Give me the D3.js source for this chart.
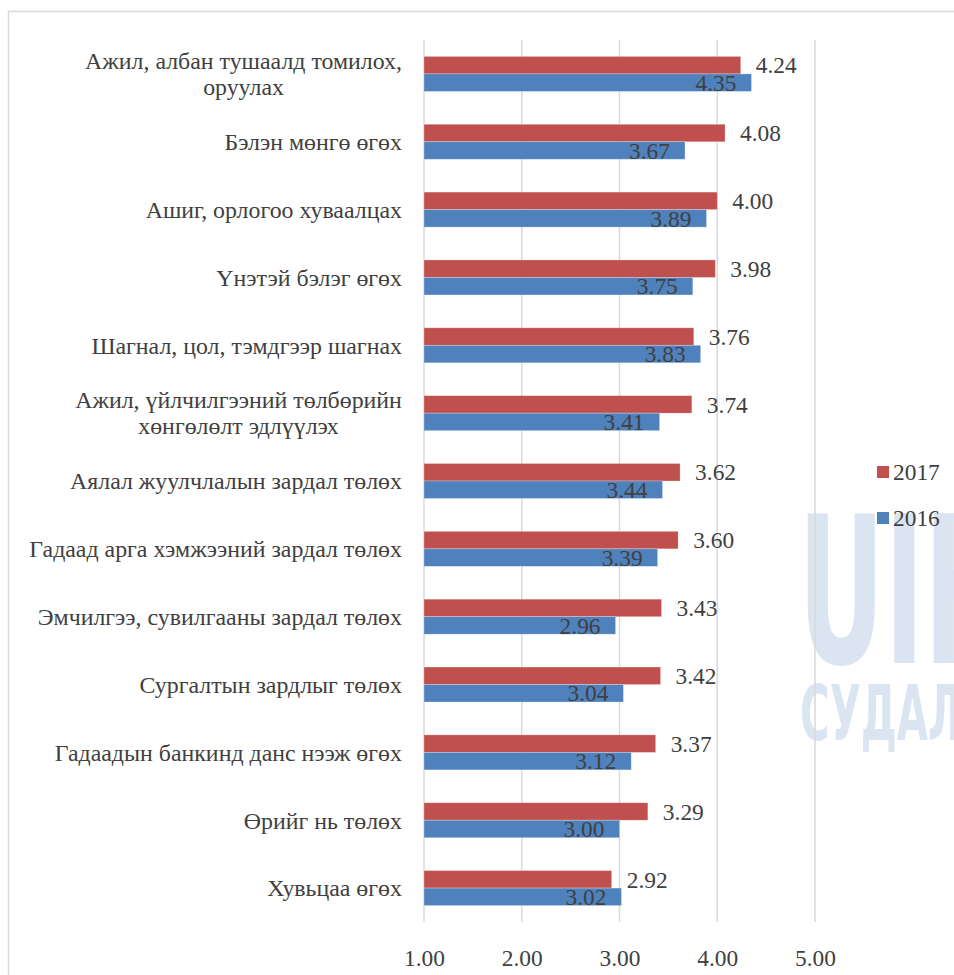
<!DOCTYPE html>
<html>
<head>
<meta charset="utf-8">
<script src="https://cdn.jsdelivr.net/npm/d3@7"></script>
<style>
  html, body { margin: 0; padding: 0; background: #ffffff; }
  svg { display: block; }
</style>
</head>
<body>
<svg id="chart" width="954" height="975"></svg>
<script>
const categories = [
  "Ажил, албан тушаалд томилох,|оруулах",
  "Бэлэн мөнгө өгөх",
  "Ашиг, орлогоо хуваалцах",
  "Үнэтэй бэлэг өгөх",
  "Шагнал, цол, тэмдгээр шагнах",
  "Ажил, үйлчилгээний төлбөрийн|хөнгөлөлт эдлүүлэх",
  "Аялал жуулчлалын зардал төлөх",
  "Гадаад арга хэмжээний зардал төлөх",
  "Эмчилгээ, сувилгааны зардал төлөх",
  "Сургалтын зардлыг төлөх",
  "Гадаадын банкинд данс нээж өгөх",
  "Өрийг нь төлөх",
  "Хувьцаа өгөх"
];
const values2017 = [4.24, 4.08, 4.00, 3.98, 3.76, 3.74, 3.62, 3.60, 3.43, 3.42, 3.37, 3.29, 2.92];
const values2016 = [4.35, 3.67, 3.89, 3.75, 3.83, 3.41, 3.44, 3.39, 2.96, 3.04, 3.12, 3.00, 3.02];
const seriesNames = ["2017", "2016"];
const tickValues = [1, 2, 3, 4, 5];

const colors = { "2017": "#c0504d", "2016": "#4f81bd" };
const textColor = "#404040";

// pick an installed Times-like serif font
const cv = document.createElement("canvas").getContext("2d");
function measure(str, fam, size) { cv.font = `${size}px ${fam}`; return cv.measureText(str).width; }
const probe = "Ажил, албан тушаалд 1.00 WMmwil";
const candidates = ["Liberation Serif", "Tinos", "Times New Roman", "Noto Serif", "DejaVu Serif"];
let fam = "serif";
for (const c of candidates) {
  const a = measure(probe, `'${c}', monospace`, 40), b = measure(probe, "monospace", 40);
  const a2 = measure(probe, `'${c}', sans-serif`, 40), b2 = measure(probe, "sans-serif", 40);
  if (Math.abs(a - b) > 0.5 || Math.abs(a2 - b2) > 0.5) { fam = `'${c}'`; break; }
}
const font = fam + ", serif";
// size fonts to match reference text widths
const catSize = 21 * 317 / measure("Ажил, албан тушаалд томилох,", font, 21);
const numSize = 23 * 41 / measure("1.00", font, 23);

const svg = d3.select("#chart");

// outer frame
svg.append("rect").attr("x", 8.5).attr("y", 11.5).attr("width", 1000).attr("height", 1000)
  .attr("fill", "none").attr("stroke", "#d9d9d9").attr("stroke-width", 1.5);

// watermark
const wm = svg.append("g").attr("fill", "#dbe5f1").attr("font-family", "'DejaVu Sans Condensed', 'DejaVu Sans', sans-serif").attr("font-weight", "bold");
wm.append("text").attr("x", 798).attr("y", 663).attr("font-size", 205)
  .attr("textLength", 215).attr("lengthAdjust", "spacingAndGlyphs").text("UIH");
wm.append("text").attr("x", 800).attr("y", 740).attr("font-size", 76)
  .attr("textLength", 250).attr("lengthAdjust", "spacingAndGlyphs").text("СУДАЛГАА");

const plotTop = 40, plotBottom = 922;
const x = d3.scaleLinear().domain([1, 5]).range([424, 815]);
const y0 = d3.scaleBand().domain(categories).range([plotTop, plotBottom]).padding(0);
const barH = 17.5;
const y1 = d3.scaleBand().domain(seriesNames)
  .range([y0.bandwidth() / 2 - barH, y0.bandwidth() / 2 + barH]).padding(0);

// gridlines
svg.append("g").selectAll("line").data(tickValues).join("line")
  .attr("x1", d => x(d)).attr("x2", d => x(d))
  .attr("y1", plotTop).attr("y2", plotBottom)
  .attr("stroke", "#d9d9d9").attr("stroke-width", 1.5);

// x axis tick labels
const xAxis = d3.axisBottom(x).tickValues(tickValues).tickFormat(d3.format(".2f")).tickSize(0).tickPadding(0);
const gx = svg.append("g").attr("transform", `translate(0, ${plotBottom})`).call(xAxis);
gx.select(".domain").remove();
gx.selectAll("text").attr("font-family", font).attr("font-size", numSize).attr("fill", textColor)
  .attr("dy", null).attr("y", 44);

const data = categories.map((c, i) => ({ cat: c, vals: [
  { s: "2017", v: values2017[i] }, { s: "2016", v: values2016[i] } ] }));

const groups = svg.append("g").selectAll("g").data(data).join("g")
  .attr("transform", d => `translate(0, ${y0(d.cat)})`);

groups.selectAll("rect").data(d => d.vals).join("rect")
  .attr("x", x(1))
  .attr("y", d => y1(d.s))
  .attr("width", d => x(d.v) - x(1))
  .attr("height", y1.bandwidth())
  .attr("fill", d => colors[d.s])
  .attr("stroke", "#ffffff").attr("stroke-opacity", 0.35).attr("stroke-width", 0.75);

groups.selectAll("text.val").data(d => d.vals).join("text")
  .attr("class", "val")
  .attr("x", d => d.s === "2017" ? x(d.v) + 15 : x(d.v) - 15)
  .attr("y", d => y1(d.s) + y1.bandwidth() / 2)
  .attr("dy", "0.35em")
  .attr("text-anchor", d => d.s === "2017" ? "start" : "end")
  .attr("font-family", font).attr("font-size", numSize).attr("fill", textColor)
  .text(d => d3.format(".2f")(d.v));

// category labels
const labelRight = 402, lineH = 26;
groups.each(function(d) {
  const g = d3.select(this);
  const lines = d.cat.split("|");
  const t = g.append("text").attr("font-family", font).attr("font-size", catSize).attr("fill", textColor)
    .attr("text-anchor", "middle");
  const n = lines.length;
  lines.forEach((ln, k) => {
    t.append("tspan").attr("x", 0)
      .attr("y", y0.bandwidth() / 2 + (k - (n - 1) / 2) * lineH)
      .attr("dy", "0.35em").text(ln);
  });
  const w = t.node().getBBox().width;
  t.selectAll("tspan").attr("x", labelRight - w / 2);
});

// legend
const legend = svg.append("g");
seriesNames.forEach((s, i) => {
  const ly = 472 + i * 46;
  legend.append("rect").attr("x", 877).attr("y", ly - 6).attr("width", 12).attr("height", 12).attr("fill", colors[s]);
  legend.append("text").attr("x", 893).attr("y", ly).attr("dy", "0.35em")
    .attr("font-family", font).attr("font-size", numSize).attr("fill", textColor).text(s);
});
</script>
</body>
</html>
